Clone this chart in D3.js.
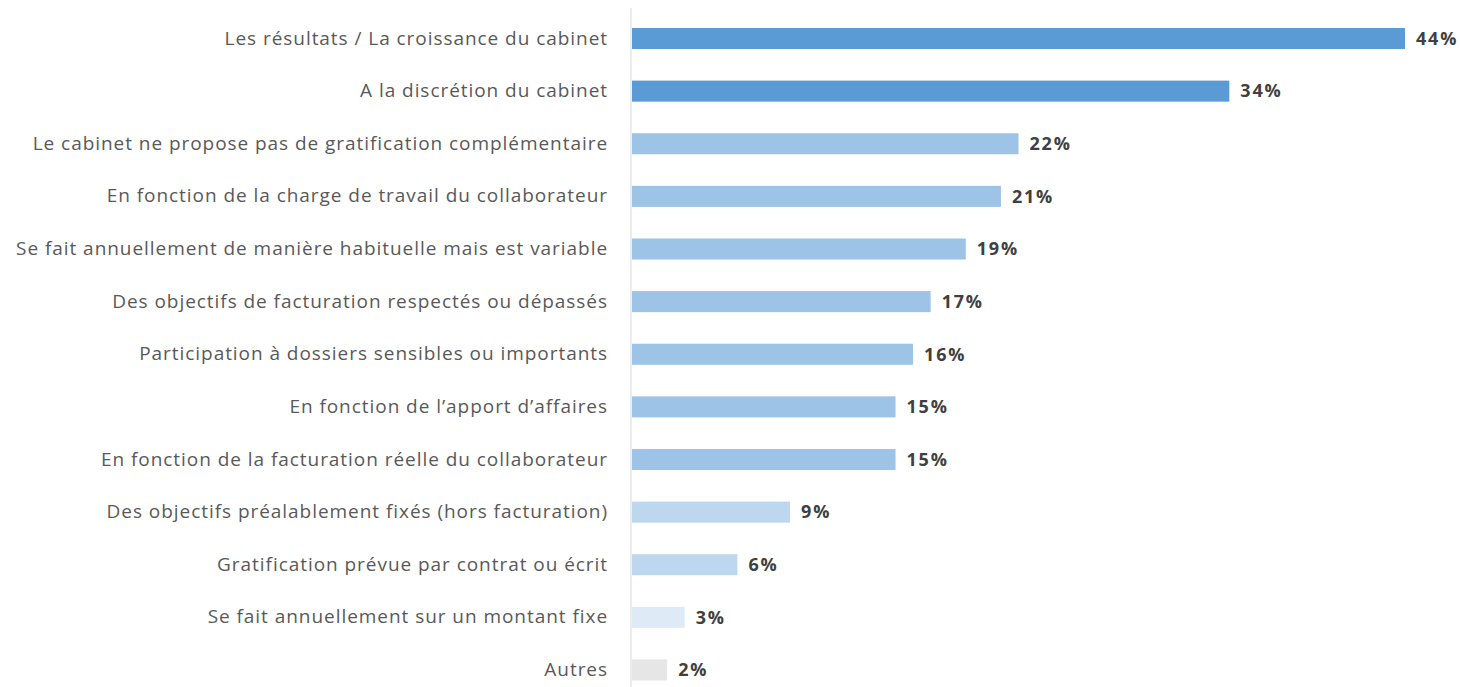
<!DOCTYPE html>
<html>
<head>
<meta charset="utf-8">
<script src="https://cdn.jsdelivr.net/npm/d3@7"></script>
<style>
  html, body { margin: 0; padding: 0; background: #ffffff; }
  svg { display: block; }
</style>
</head>
<body>
<svg id="chart" width="1460" height="687"></svg>
<script>
// Critères d'attribution de la gratification
const categories = [
  "Les résultats / La croissance du cabinet",
  "A la discrétion du cabinet",
  "Le cabinet ne propose pas de gratification complémentaire",
  "En fonction de la charge de travail du collaborateur",
  "Se fait annuellement de manière habituelle mais est variable",
  "Des objectifs de facturation respectés ou dépassés",
  "Participation à dossiers sensibles ou importants",
  "En fonction de l’apport d’affaires",
  "En fonction de la facturation réelle du collaborateur",
  "Des objectifs préalablement fixés (hors facturation)",
  "Gratification prévue par contrat ou écrit",
  "Se fait annuellement sur un montant fixe",
  "Autres"
];
const values = [44, 34, 22, 21, 19, 17, 16, 15, 15, 9, 6, 3, 2];
const barColors = [
  "#5b9bd5", "#5b9bd5",
  "#9dc3e6", "#9dc3e6", "#9dc3e6", "#9dc3e6", "#9dc3e6", "#9dc3e6", "#9dc3e6",
  "#bdd7ee", "#bdd7ee",
  "#deebf7",
  "#e7e6e6"
];

const svg = d3.select("#chart");
const x0 = 632;

const x = d3.scaleLinear().domain([0, 44]).range([x0, 1405]);
const y = d3.scaleBand()
  .domain(categories)
  .range([12.2, 696.3])
  .paddingInner(0.6)
  .paddingOuter(0.3);

const rows = categories.map((c, i) => ({ cat: c, value: values[i], color: barColors[i] }));

// bars
svg.append("g").selectAll("rect")
  .data(rows)
  .join("rect")
  .attr("x", x(0))
  .attr("y", d => y(d.cat))
  .attr("width", d => x(d.value) - x(0))
  .attr("height", y.bandwidth())
  .attr("fill", d => d.color);

// category axis
const axis = svg.append("g")
  .attr("transform", `translate(${x0 - 1},0)`)
  .call(d3.axisLeft(y).tickSize(0).tickPadding(23));
axis.select(".domain").remove();
axis.append("line")
  .attr("x1", 0).attr("x2", 0)
  .attr("y1", 8).attr("y2", 687)
  .attr("stroke", "#d9d9d9")
  .attr("stroke-width", 1);
axis.selectAll("text")
  .attr("font-family", "'Open Sans', sans-serif")
  .attr("font-size", 19)
  .attr("letter-spacing", 0.95)
  .attr("fill", "#595959");

// value labels
svg.append("g").selectAll("text")
  .data(rows)
  .join("text")
  .attr("x", d => x(d.value) + 11)
  .attr("y", d => y(d.cat) + y.bandwidth() / 2)
  .attr("dy", "0.35em")
  .attr("font-family", "'Open Sans', sans-serif")
  .attr("font-size", 18)
  .attr("font-weight", "bold")
  .attr("letter-spacing", 1.8)
  .attr("fill", "#404040")
  .text(d => d.value + "%");
</script>
</body>
</html>
